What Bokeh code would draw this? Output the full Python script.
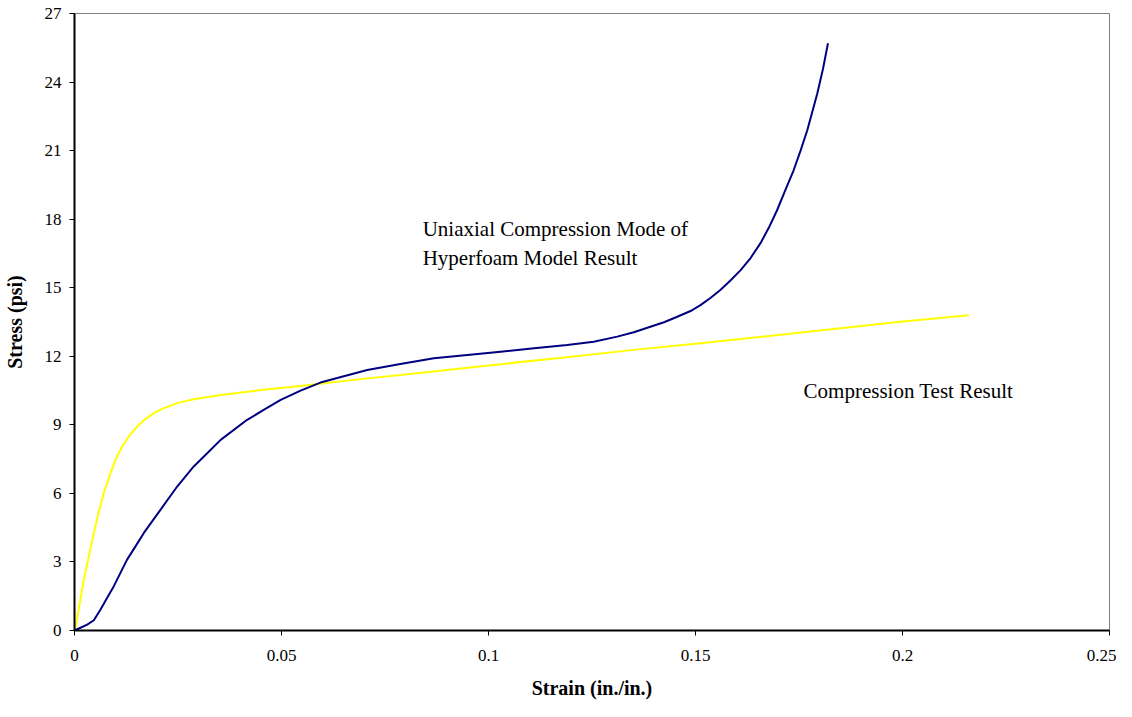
from bokeh.plotting import figure
from bokeh.models import Range1d, FixedTicker, Label
from bokeh.embed import file_html
from bokeh.resources import INLINE

# Compression test result (yellow)
test_strain = [0.0, 0.00024, 0.00225, 0.00346, 0.00467, 0.00588, 0.00708, 0.0087, 0.0099,
               0.01152, 0.0131, 0.01514, 0.01715, 0.01916, 0.0216, 0.0248, 0.0288, 0.0353,
               0.0450, 0.0546, 0.0691, 0.0850, 0.1000, 0.1200, 0.1351, 0.1512, 0.1700,
               0.1995, 0.2160]
test_stress = [0.0, 0.12, 2.23, 3.25, 4.27, 5.21, 6.02, 6.89, 7.47,
               8.05, 8.49, 8.93, 9.25, 9.51, 9.73, 9.95, 10.12, 10.31,
               10.52, 10.7, 11.0, 11.3, 11.6, 11.98, 12.28, 12.57, 12.93,
               13.51, 13.8]

# Hyperfoam model result (navy)
model_strain = [0.0, 0.00145, 0.00306, 0.00467, 0.00628, 0.0079, 0.0095, 0.0111, 0.0127,
                0.01473, 0.01675, 0.0208, 0.0248, 0.0288, 0.0312, 0.0353, 0.0417, 0.0457,
                0.0498, 0.0546, 0.0594, 0.0707, 0.0787, 0.0868, 0.0949, 0.1029, 0.1110,
                0.1190, 0.1254, 0.1311, 0.1351, 0.1391, 0.1424, 0.1456, 0.1488, 0.1512,
                0.1536, 0.1560, 0.1585, 0.1609, 0.1633, 0.1657, 0.1677, 0.1697, 0.1717,
                0.1737, 0.1754, 0.1770, 0.1782, 0.1794, 0.1808, 0.1820]
model_stress = [0.0, 0.12, 0.26, 0.45, 0.92, 1.43, 1.94, 2.52, 3.1,
                3.68, 4.27, 5.29, 6.3, 7.18, 7.6, 8.34, 9.22, 9.65,
                10.09, 10.5, 10.85, 11.4, 11.66, 11.91, 12.06, 12.2, 12.35,
                12.49, 12.64, 12.86, 13.05, 13.29, 13.49, 13.73, 13.98, 14.24,
                14.55, 14.9, 15.33, 15.77, 16.3, 16.95, 17.62, 18.39, 19.27,
                20.14, 21.01, 21.89, 22.69, 23.49, 24.58, 25.7]

x_ticks = [0, 0.05, 0.1, 0.15, 0.2, 0.25]
y_ticks = [0, 3, 6, 9, 12, 15, 18, 21, 24, 27]
x_tick_labels = {0: "0", 0.05: "0.05", 0.1: "0.1", 0.15: "0.15", 0.2: "0.2", 0.25: "0.25"}

FONT = "Liberation Serif"

p = figure(width=1116, height=701, output_backend="svg", toolbar_location=None,
           x_range=Range1d(0, 0.25), y_range=Range1d(0, 27),
           min_border_left=72, min_border_right=7, min_border_top=13, min_border_bottom=70)

p.line(test_strain, test_stress, line_color="#FFFF00", line_width=2, line_join="round")
p.line(model_strain, model_stress, line_color="#000080", line_width=2, line_join="round")

p.xgrid.visible = False
p.ygrid.visible = False
p.outline_line_color = "#808080"
p.outline_line_width = 1

for ax in (p.xaxis[0], p.yaxis[0]):
    ax.axis_line_color = "black"
    ax.axis_line_width = 2
    ax.major_tick_line_color = "black"
    ax.major_tick_out = 5
    ax.major_tick_in = 0
    ax.minor_tick_line_color = None
    ax.major_label_text_font = FONT
    ax.major_label_text_font_size = "17px"
    ax.major_label_text_color = "black"
    ax.axis_label_text_font = FONT
    ax.axis_label_text_font_size = "20px"
    ax.axis_label_text_font_style = "bold"
    ax.axis_label_text_color = "black"

p.xaxis.ticker = FixedTicker(ticks=x_ticks)
p.xaxis.major_label_overrides = x_tick_labels
p.yaxis.ticker = FixedTicker(ticks=y_ticks)
p.xaxis.axis_label = "Strain (in./in.)"
p.yaxis.axis_label = "Stress (psi)"
p.xaxis.major_label_standoff = 14
p.xaxis.axis_label_standoff = 13
p.yaxis.major_label_standoff = 8
p.yaxis.axis_label_standoff = 16

for txt, x, y in [("Uniaxial Compression Mode of", 0.0841, 17.56),
                  ("Hyperfoam Model Result", 0.0841, 16.3),
                  ("Compression Test Result", 0.1761, 10.49)]:
    p.add_layout(Label(x=x, y=y, text=txt, text_font=FONT, text_font_size="21px",
                       text_baseline="middle", text_color="black"))

open("out.html", "w").write(file_html(p, INLINE))
